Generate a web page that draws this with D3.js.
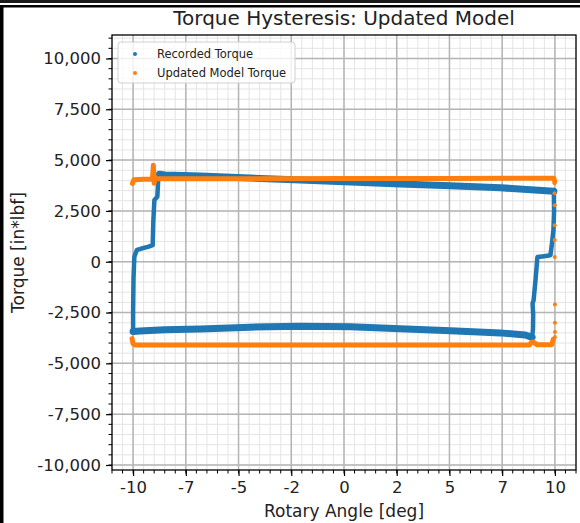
<!DOCTYPE html>
<html>
<head>
<meta charset="utf-8">
<script src="https://cdn.jsdelivr.net/npm/d3@7"></script>
<style>
  html, body { margin: 0; padding: 0; background: #fff; }
  svg { display: block; font-family: "DejaVu Sans", sans-serif; }
</style>
</head>
<body>
<svg id="chart" width="580" height="523"></svg>
<script>
// Recorded torque loop, split into its four legs (angle in deg, torque in in*lbf)
const recordedLowerAngle  = [-10.0, -9.67, -8.5, -6.82, -4.45, -2.07, 0.30, 2.67, 5.05, 7.42, 8.60, 8.92];
const recordedLowerTorque = [-3430, -3410, -3350, -3310, -3220, -3170, -3200, -3300, -3400, -3500, -3600, -3720];

const recordedRiseAngle  = [8.92, 8.96, 8.97, 8.94, 8.99, 9.08, 9.17, 9.40, 9.65, 9.79, 9.86, 9.93, 9.96, 9.95];
const recordedRiseTorque = [-3720, -3300, -2600, -2050, -1900, -900, 230, 260, 290, 330, 900, 1560, 2500, 3470];

const recordedUpperAngle  = [9.95, 7.42, 5.05, 2.67, 0.30, -2.07, -4.45, -6.82, -8.48, -8.75];
const recordedUpperTorque = [3470, 3640, 3740, 3830, 3920, 4020, 4120, 4220, 4270, 4300];

const recordedFallAngle  = [-8.75, -8.80, -8.85, -8.99, -9.04, -9.07, -9.30, -9.60, -9.82, -9.94, -9.98, -10.0, -10.0];
const recordedFallTorque = [4300, 4200, 3200, 3040, 2000, 820, 730, 650, 580, 250, -800, -2500, -3430];

// Updated model torque: upper and lower plateaus plus the sparse switching points
const modelUpperAngle  = [-10.03, -9.96, -9.50, -9.08, -9.04, -9.00, -8.95, -8.90, -5.0, 0.0, 5.0, 9.95, 9.99];
const modelUpperTorque = [3850, 4040, 4060, 4060, 4750, 3860, 4150, 4080, 4080, 4090, 4100, 4110, 3950];

const modelLowerAngle  = [-10.05, -10.0, -9.9, 0.0, 8.80, 8.88, 8.95, 9.05, 9.15, 9.85, 9.92];
const modelLowerTorque = [-3780, -4040, -4090, -4090, -4090, -3970, -3950, -4000, -4080, -4080, -3820];

const modelEdgeAngle  = [9.98, 9.98, 9.99, 9.99, 9.99, 9.99, 10.0, 10.0, 10.0, 10.0];
const modelEdgeTorque = [3860, 3370, 2780, 1800, 1070, 230, -2100, -3000, -3460, -3700];

// Axis ticks
const xTickValues = [-10, -7.5, -5, -2.5, 0, 2.5, 5, 7.5, 10];
const xTickLabels = ["-10", "-7", "-5", "-2", "0", "2", "5", "7", "10"];
const yTickValues = [-10000, -7500, -5000, -2500, 0, 2500, 5000, 7500, 10000];

const seriesNames = ["Recorded Torque", "Updated Model Torque"];
const seriesColors = ["#1f77b4", "#ff7f0e"];

const svg = d3.select("#chart");
const W = 580, H = 523;
const plot = { left: 112, right: 576, top: 35, bottom: 470 };

const x = d3.scaleLinear().domain([-11, 11]).range([plot.left, plot.right]);
const y = d3.scaleLinear().domain([-10246, 11156]).range([plot.bottom, plot.top]);

// outer frame
svg.append("rect").attr("x", 0).attr("y", 0).attr("width", W).attr("height", H).attr("fill", "#fff");
svg.append("rect").attr("x", 0).attr("y", 0).attr("width", W).attr("height", 3).attr("fill", "#1a1a1a");
svg.append("rect").attr("x", 0).attr("y", 5).attr("width", W).attr("height", 2.5).attr("fill", "#000");
svg.append("rect").attr("x", 0).attr("y", 5).attr("width", 3.5).attr("height", H).attr("fill", "#000");

// grid
const xMinor = d3.range(-11, 11.001, 0.5);
const yMinor = d3.range(-10000, 11001, 500);
const grid = svg.append("g");
grid.selectAll("line.xmin").data(xMinor).join("line")
  .attr("x1", d => x(d)).attr("x2", d => x(d)).attr("y1", plot.top).attr("y2", plot.bottom)
  .attr("stroke", "#e4e4e4").attr("stroke-width", 1);
grid.selectAll("line.ymin").data(yMinor).join("line")
  .attr("y1", d => y(d)).attr("y2", d => y(d)).attr("x1", plot.left).attr("x2", plot.right)
  .attr("stroke", "#e4e4e4").attr("stroke-width", 1);
grid.selectAll("line.xmaj").data(xTickValues).join("line")
  .attr("x1", d => x(d)).attr("x2", d => x(d)).attr("y1", plot.top).attr("y2", plot.bottom)
  .attr("stroke", "#b4b4b4").attr("stroke-width", 1.5);
grid.selectAll("line.ymaj").data(yTickValues).join("line")
  .attr("y1", d => y(d)).attr("y2", d => y(d)).attr("x1", plot.left).attr("x2", plot.right)
  .attr("stroke", "#b4b4b4").attr("stroke-width", 1.5);

// series
const pts = (a, t) => a.map((v, i) => [v, t[i]]);
const line = d3.line().x(d => x(d[0])).y(d => y(d[1]));
const marks = svg.append("g");

function band(a, t, color, width) {
  marks.append("path").datum(pts(a, t))
    .attr("d", line).attr("fill", "none")
    .attr("stroke", color).attr("stroke-width", width)
    .attr("stroke-linejoin", "round").attr("stroke-linecap", "round");
}
band(recordedRiseAngle, recordedRiseTorque, seriesColors[0], 4.5);
band(recordedFallAngle, recordedFallTorque, seriesColors[0], 4.5);
band(recordedLowerAngle, recordedLowerTorque, seriesColors[0], 7);
band(recordedUpperAngle, recordedUpperTorque, seriesColors[0], 7);

band(modelUpperAngle, modelUpperTorque, seriesColors[1], 5);
band(modelLowerAngle, modelLowerTorque, seriesColors[1], 5);
marks.selectAll("circle.edge").data(pts(modelEdgeAngle, modelEdgeTorque)).join("circle")
  .attr("cx", d => x(d[0])).attr("cy", d => y(d[1])).attr("r", 2)
  .attr("fill", seriesColors[1]);

// spines
svg.append("rect").attr("x", plot.left).attr("y", plot.top)
  .attr("width", plot.right - plot.left).attr("height", plot.bottom - plot.top)
  .attr("fill", "none").attr("stroke", "#000").attr("stroke-width", 1.3);

// axes (plain hyphen for negative labels)
const commaFmt = d3.format(",");
const yFormat = d => commaFmt(d).replace("\u2212", "-");

const xAxis = d3.axisBottom(x).tickValues(xTickValues)
  .tickFormat((d, i) => xTickLabels[i]).tickSize(6).tickPadding(5);
const gx = svg.append("g").attr("transform", `translate(0,${plot.bottom})`).call(xAxis);
gx.append("g").selectAll("line").data(xMinor).join("line")
  .attr("x1", d => x(d)).attr("x2", d => x(d)).attr("y1", 0).attr("y2", 3.5).attr("stroke", "#000");

const yAxis = d3.axisLeft(y).tickValues(yTickValues)
  .tickFormat(yFormat).tickSize(6).tickPadding(5);
const gy = svg.append("g").attr("transform", `translate(${plot.left},0)`).call(yAxis);
gy.append("g").selectAll("line").data(yMinor).join("line")
  .attr("y1", d => y(d)).attr("y2", d => y(d)).attr("x1", 0).attr("x2", -3.5).attr("stroke", "#000");

[gx, gy].forEach(g => {
  g.select(".domain").remove();
  g.selectAll(".tick line").attr("stroke", "#000").attr("stroke-width", 1.2);
  g.selectAll(".tick text").attr("fill", "#222").attr("font-size", 16.5)
    .attr("font-family", "DejaVu Sans");
});

// titles
svg.append("text").attr("x", (plot.left + plot.right) / 2).attr("y", 25)
  .attr("text-anchor", "middle").attr("font-size", 20).attr("fill", "#222")
  .text("Torque Hysteresis: Updated Model");
svg.append("text").attr("x", (plot.left + plot.right) / 2).attr("y", 517)
  .attr("text-anchor", "middle").attr("font-size", 17).attr("fill", "#222")
  .text("Rotary Angle [deg]");
svg.append("text")
  .attr("transform", `translate(24,${(plot.top + plot.bottom) / 2}) rotate(-90)`)
  .attr("text-anchor", "middle").attr("font-size", 17).attr("fill", "#222")
  .text("Torque [in*lbf]");

// legend
const lg = svg.append("g").attr("transform", "translate(118,42)");
lg.append("rect").attr("width", 177).attr("height", 41).attr("rx", 3)
  .attr("fill", "#fff").attr("fill-opacity", 0.8).attr("stroke", "#d0d0d0");
seriesNames.forEach((name, i) => {
  lg.append("circle").attr("cx", 17).attr("cy", 12 + i * 19).attr("r", 2).attr("fill", seriesColors[i]);
  lg.append("text").attr("x", 39).attr("y", 12 + i * 19).attr("dy", "0.35em")
    .attr("font-size", 11.5).attr("fill", "#222").text(name);
});
</script>
</body>
</html>
